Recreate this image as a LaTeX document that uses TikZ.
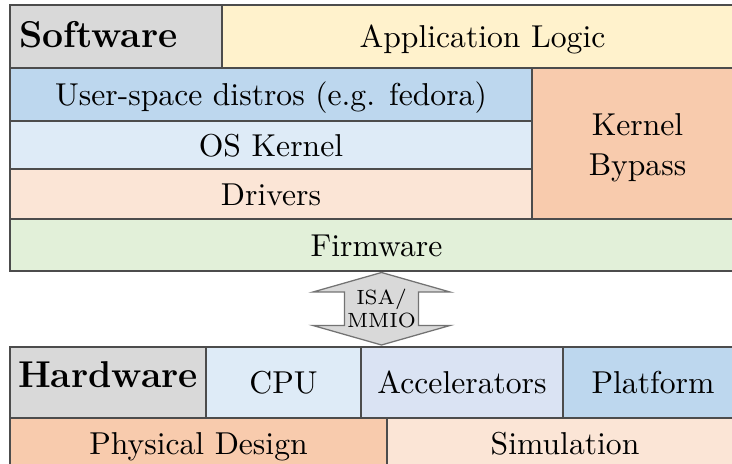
\documentclass[tikz,border=0pt]{standalone}
\definecolor{swgray}{HTML}{D9D9D9}
\definecolor{appyellow}{HTML}{FFF2CC}
\definecolor{usrblue}{HTML}{BDD7EE}
\definecolor{osblue}{HTML}{DEEBF7}
\definecolor{drvpeach}{HTML}{FBE5D6}
\definecolor{bypassorange}{HTML}{F8CBAD}
\definecolor{fwgreen}{HTML}{E2F0D9}
\definecolor{accblue}{HTML}{DAE3F3}
\newcommand{\pxu}{0.316pt}
\begin{document}
\begin{tikzpicture}[x=\pxu,y=-\pxu]
\tikzstyle{cell}=[draw=black!70,line width=0.4pt,shape=rectangle,inner sep=0pt]
\tikzstyle{txt}=[cell,text height=0.9em,text depth=0.2em]
\tikzstyle{head}=[txt,fill=swgray,font=\fontsize{11.8}{14}\selectfont\bfseries]
\useasboundingbox (0,0) rectangle (732,464);
% software stack
\path (116,36.5) node[head,minimum width=212*\pxu,minimum height=63*\pxu,text width=61.3pt,align=left](sw){Software}
 (482.5,36.5) node[txt,fill=appyellow,minimum width=521*\pxu,minimum height=63*\pxu](app){Application Logic};
\path (271,94.5) node[txt,fill=usrblue,minimum width=522*\pxu,minimum height=53*\pxu](usr){User-space distros (e.g. fedora)}
 (271,145) node[txt,fill=osblue,minimum width=522*\pxu,minimum height=48*\pxu](os){OS Kernel}
 (271,194) node[txt,fill=drvpeach,minimum width=522*\pxu,minimum height=50*\pxu](drv){Drivers};
\path (637.5,143.5) node[cell,fill=bypassorange,minimum width=211*\pxu,minimum height=151*\pxu,align=center](bypass){\rule{0pt}{9.5pt}Kernel\\[0.6pt]Bypass};
\path (376.5,245) node[txt,fill=fwgreen,minimum width=733*\pxu,minimum height=52*\pxu](fw){Firmware};
% interface arrow
\filldraw[fill=swgray,draw=black!55,line width=0.4pt] (381.5,272.5) -- (450,292) -- (418.5,292) -- (418.5,325.5) -- (450,325.5) -- (381.5,345)
 -- (313,325.5) -- (344.5,325.5) -- (344.5,292) -- (313,292) -- cycle;
\path (381.5,308.5) node[align=center,inner sep=0pt,font=\fontsize{6.5}{7}\selectfont](isa){ISA/\\MMIO};
% hardware stack
\path (108,382.5) node[head,minimum width=196*\pxu,minimum height=71*\pxu](hw){\raisebox{2pt}{Hardware}}
 (283.5,382.5) node[txt,fill=osblue,minimum width=155*\pxu,minimum height=71*\pxu](cpu){CPU}
 (462,382.5) node[txt,fill=accblue,minimum width=202*\pxu,minimum height=71*\pxu](acc){Accelerators}
 (653,382.5) node[txt,fill=usrblue,minimum width=180*\pxu,minimum height=71*\pxu](plat){Platform};
\path (198.5,443) node[txt,fill=bypassorange,minimum width=377*\pxu,minimum height=50*\pxu](phys){Physical Design}
 (565,443) node[txt,fill=drvpeach,minimum width=356*\pxu,minimum height=50*\pxu](sim){Simulation};
\end{tikzpicture}
\end{document}
